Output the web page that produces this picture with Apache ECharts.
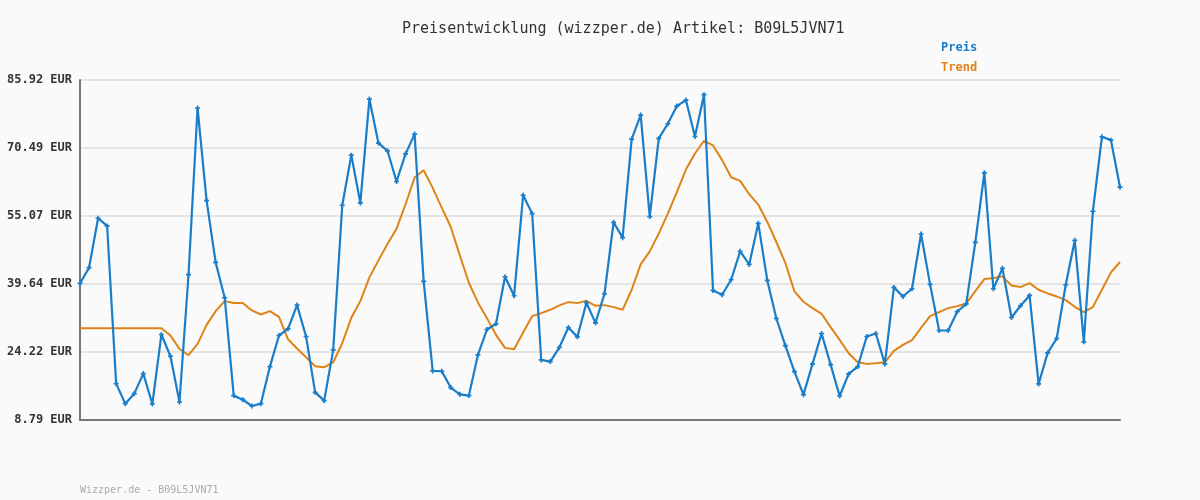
<!DOCTYPE html>
<html>
<head>
<meta charset="utf-8">
<script src="https://cdn.jsdelivr.net/npm/echarts@6/dist/echarts.min.js"></script>
<style>
html,body{margin:0;padding:0;background:#fafafa;}
#chart{width:1200px;height:500px;}
</style>
</head>
<body>
<div id="chart"></div>
<script>
var titleText = 'Preisentwicklung (wizzper.de) Artikel: B09L5JVN71';
var footerText = 'Wizzper.de - B09L5JVN71';
var yMin = 8.79;
var yMax = 85.92;
var yStep = 15.426;

var preis = [
 39.78,43.34,54.55,52.81,17.04,12.50,14.77,19.32,12.42,28.18,
 23.26,12.88,41.75,79.56,58.57,44.55,36.52,14.32,13.41,11.97,
 12.50,20.91,27.96,29.47,34.85,27.73,15.07,13.18,24.70,57.51,
 68.87,58.04,81.60,71.60,69.86,62.89,69.17,73.65,40.23,19.92,
 19.85,16.14,14.62,14.32,23.56,29.32,30.61,41.29,36.97,59.78,
 55.61,22.42,22.04,25.23,29.77,27.65,35.38,30.83,37.43,53.64,
 50.16,72.51,77.96,54.93,72.66,75.99,80.01,81.37,73.11,82.59,
 38.18,37.20,40.61,47.05,44.09,53.41,40.46,31.82,25.68,19.77,
 14.54,21.52,28.41,21.36,14.24,19.24,20.91,27.73,28.41,21.52,
 38.87,36.82,38.56,50.99,39.55,29.09,29.09,33.34,35.15,49.10,
 64.86,38.56,43.19,32.05,34.70,37.05,16.97,24.02,27.27,39.47,
 49.55,26.52,56.14,73.04,72.28,61.60
];

var trend = [
 29.62,29.62,29.62,29.62,29.62,29.62,29.62,29.62,29.62,29.62,
 27.96,24.92,23.49,26.06,30.38,33.49,35.76,35.31,35.31,33.64,
 32.73,33.49,32.20,27.12,25.00,23.03,20.98,20.76,21.89,26.21,
 31.97,35.76,41.14,45.00,48.72,52.20,57.73,63.80,65.46,61.45,
 56.98,52.58,46.14,39.93,35.46,31.90,28.11,25.15,24.85,28.64,
 32.35,33.03,33.79,34.78,35.53,35.31,35.84,34.70,34.85,34.40,
 33.79,38.34,44.09,47.05,51.07,55.61,60.46,65.61,69.25,72.13,
 71.07,67.74,63.87,63.04,60.01,57.66,53.72,49.17,44.40,37.96,
 35.61,34.17,32.88,29.85,26.97,23.94,21.89,21.52,21.67,21.89,
 24.47,25.83,26.89,29.70,32.35,33.26,34.17,34.62,35.23,38.03,
 40.76,40.99,41.37,39.32,38.94,39.85,38.34,37.50,36.82,35.99,
 34.47,33.26,34.40,38.34,42.28,44.63
];

var categories = preis.map(function(_, i){ return String(i + 1); });

var blue = '#1a7dc9';
var orange = '#e08317';
var mono = '"DejaVu Sans Mono", "Liberation Mono", monospace';

var chart = echarts.init(document.getElementById('chart'), null, {renderer:'canvas'});
chart.setOption({
  backgroundColor: '#fafafa',
  animation: false,
  title: [
    {text: titleText, left: 397, top: 17,
     textStyle: {fontFamily: mono, fontSize: 15, fontWeight: 'normal', color: '#333'}},
    {text: footerText, left: 75, top: 480,
     textStyle: {fontFamily: mono, fontSize: 10, fontWeight: 'normal', color: '#aaa'}}
  ],
  legend: {
    orient: 'vertical', left: 931, top: 37, itemGap: 8,
    itemWidth: 0, itemHeight: 0,
    data: [
      {name: 'Preis', icon: 'none', textStyle: {color: blue}},
      {name: 'Trend', icon: 'none', textStyle: {color: orange}}
    ],
    textStyle: {fontFamily: mono, fontSize: 12, fontWeight: 'bold'},
    selectedMode: false
  },
  grid: {left: 80, right: 80, top: 80, bottom: 80, containLabel: false},
  xAxis: {
    type: 'category', data: categories, boundaryGap: false,
    axisLine: {show: true, lineStyle: {color: '#777', width: 2}},
    axisTick: {show: false}, axisLabel: {show: false}, splitLine: {show: false}
  },
  yAxis: {
    type: 'value', min: yMin, max: yMax, interval: yStep,
    axisLine: {show: true, lineStyle: {color: '#777', width: 2}},
    axisTick: {show: false},
    axisLabel: {
      margin: 8, color: '#333', fontFamily: mono, fontSize: 12, fontWeight: 'bold',
      formatter: function(v){ return v.toFixed(2) + ' EUR'; }
    },
    splitLine: {show: true, lineStyle: {color: '#e4e4e4', width: 2}}
  },
  series: [
    {name: 'Preis', type: 'line', data: preis,
     lineStyle: {color: blue, width: 2.2}, itemStyle: {color: blue},
     symbol: 'path://M2,0H4V2H6V4H4V6H2V4H0V2H2Z', symbolSize: 5,
     showSymbol: true, showAllSymbol: true, z: 3},
    {name: 'Trend', type: 'line', data: trend,
     lineStyle: {color: orange, width: 2}, itemStyle: {color: orange},
     symbol: 'none', z: 2}
  ]
});
</script>
</body>
</html>
